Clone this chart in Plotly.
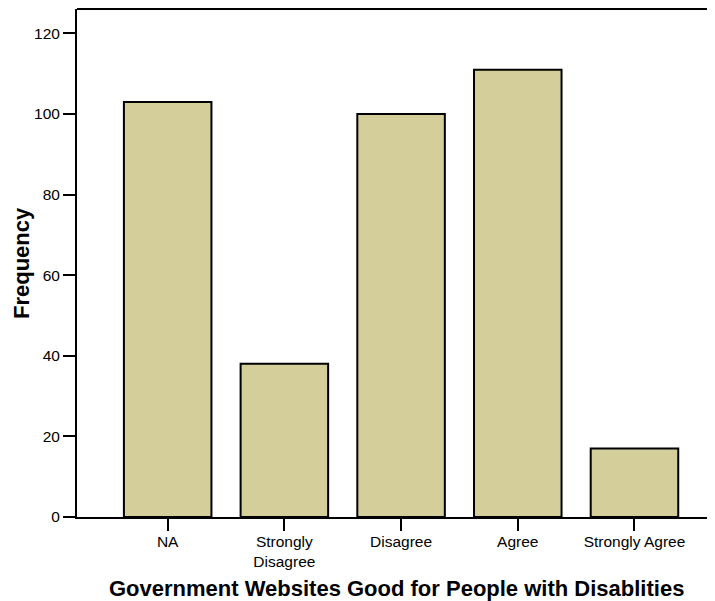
import plotly.graph_objects as go

categories = ["NA", "Strongly<br>Disagree", "Disagree", "Agree", "Strongly Agree"]
frequency = [103, 38, 100, 111, 17]
y_ticks = [0, 20, 40, 60, 80, 100, 120]

# The page body has an 8px margin, so the figure is sized to fit the window.
W, H = 707, 593
L, R, T, B = 69, 0, 1, 84
PW, PH = W - L - R, H - T - B

fig = go.Figure()
fig.add_trace(go.Bar(
    x=list(range(len(categories))), y=frequency,
    marker=dict(color="#d3ce9a", line=dict(color="black", width=2)),
    width=0.75,
))

font = "Liberation Sans, Arial, sans-serif"
fig.update_layout(
    width=W, height=H,
    margin=dict(l=L, r=R, t=T, b=B),
    paper_bgcolor="white", plot_bgcolor="white",
    showlegend=False,
    font=dict(family=font, size=15.5, color="black"),
    xaxis=dict(
        range=[-0.777, 4.69],
        tickmode="array", tickvals=list(range(len(categories))), ticktext=categories,
        showgrid=False, zeroline=False,
        showline=True, linecolor="black", linewidth=2,
        ticks="outside", ticklen=12, tickwidth=2, tickcolor="black",
        tickfont=dict(size=15.5), ticklabelstandoff=-3,
    ),
    yaxis=dict(
        range=[0, 126.05],
        tickmode="array", tickvals=y_ticks,
        showgrid=False, zeroline=False,
        showline=True, linecolor="black", linewidth=2,
        ticks="outside", ticklen=12, tickwidth=2, tickcolor="black",
        tickfont=dict(size=15.5),
    ),
)
fig.add_shape(type="line", xref="paper", yref="paper", x0=0, x1=1, y0=1, y1=1,
              line=dict(color="black", width=2))
fig.add_annotation(
    text="<b>Government Websites Good for People with Disablities</b>",
    xref="paper", yref="paper",
    x=0.5, y=-71 / PH,
    xanchor="center", yanchor="middle", showarrow=False,
    font=dict(size=22, family=font, color="black"),
)
fig.add_annotation(
    text="<b>Frequency</b>",
    xref="paper", yref="paper",
    x=(13 - L) / PW, y=0.5, textangle=-90,
    xanchor="center", yanchor="middle", showarrow=False,
    font=dict(size=22, family=font, color="black"),
)

fig.write_html("out.html")
